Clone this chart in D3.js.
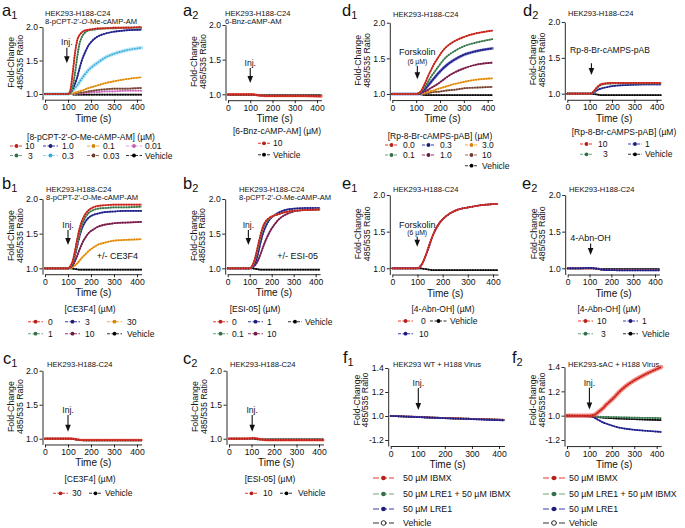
<!DOCTYPE html>
<html><head><meta charset="utf-8">
<script src="https://cdn.jsdelivr.net/npm/d3@7"></script>
<style>
body{margin:0;background:#fff}
svg{display:block}
text{font-family:"Liberation Sans",Arial,Helvetica,sans-serif;fill:#111}
</style>
</head><body>
<svg id="c" width="685" height="528"></svg>
<script>
// ---------- data ----------
const T = [0,50,100,110,120,130,140,150,160,175,190,210,230,260,300,350,420];
const xTicks = [0,100,200,300,400];
const yTicks = [1.0,1.5,2.0];
const yTickLabels = ["1.0","1.5","2.0"];
const fTicks = [0.8,1.0,1.2,1.4];
const fTickLabels = ["-1.2","1.0","1.2","1.4"];

// a1
const a1_10  = [1.00,1.00,1.00,1.05,1.30,1.60,1.80,1.88,1.92,1.95,1.96,1.97,1.98,1.98,1.99,1.99,2.00];
const a1_3   = [1.00,1.00,1.00,1.01,1.10,1.30,1.55,1.75,1.85,1.92,1.95,1.96,1.97,1.98,1.98,1.99,1.99];
const a1_1   = [1.00,1.00,1.00,1.02,1.07,1.15,1.25,1.38,1.50,1.63,1.73,1.81,1.86,1.90,1.93,1.95,1.96];
const a1_03  = [1.00,1.00,1.00,1.02,1.05,1.09,1.13,1.18,1.23,1.30,1.36,1.42,1.47,1.54,1.60,1.65,1.69];
const a1_01  = [1.00,1.00,1.00,1.00,1.01,1.02,1.03,1.04,1.05,1.07,1.09,1.11,1.13,1.16,1.19,1.22,1.25];
const a1_003 = [1.00,1.00,1.00,1.00,1.00,1.01,1.01,1.02,1.02,1.03,1.04,1.05,1.06,1.07,1.08,1.08,1.09];
const a1_001 = [1.00,1.00,1.00,1.00,1.00,1.00,1.01,1.01,1.01,1.02,1.02,1.03,1.03,1.04,1.04,1.05,1.05];
const a1_veh = [1.00,1.00,1.00,1.00,0.995,0.99,0.99,0.99,0.99,0.99,0.99,0.99,0.99,0.99,0.99,0.99,0.99];
// a2
const a2_10  = [1.00,1.00,1.00,1.00,0.995,0.99,0.985,0.98,0.978,0.975,0.975,0.975,0.975,0.975,0.975,0.975,0.97];
const a2_veh = [0.995,0.995,0.995,0.995,0.99,0.988,0.985,0.985,0.985,0.985,0.985,0.985,0.985,0.985,0.985,0.985,0.985];
// d1
const d1_00  = [1.00,1.00,1.00,1.01,1.04,1.10,1.17,1.25,1.32,1.42,1.50,1.60,1.67,1.74,1.80,1.85,1.89];
const d1_01  = [1.00,1.00,1.00,1.01,1.03,1.07,1.12,1.17,1.23,1.30,1.37,1.46,1.53,1.60,1.67,1.72,1.77];
const d1_03  = [1.00,1.00,1.00,1.00,1.02,1.05,1.08,1.12,1.16,1.22,1.28,1.35,1.41,1.48,1.55,1.60,1.64];
const d1_1   = [1.00,1.00,1.00,1.00,1.01,1.03,1.04,1.06,1.08,1.11,1.14,1.19,1.24,1.30,1.36,1.41,1.44];
const d1_3   = [1.00,1.00,1.00,1.00,1.00,1.01,1.02,1.03,1.04,1.05,1.07,1.09,1.11,1.14,1.17,1.20,1.22];
const d1_10  = [1.00,1.00,1.00,1.00,1.00,1.00,1.01,1.01,1.02,1.03,1.03,1.04,1.05,1.06,1.08,1.09,1.10];
const d1_veh = [1.00,1.00,1.00,1.00,0.995,0.99,0.985,0.985,0.985,0.985,0.985,0.985,0.985,0.985,0.985,0.985,0.985];
// d2
const d2_10  = [1.00,1.00,1.00,1.01,1.04,1.08,1.11,1.13,1.14,1.145,1.15,1.15,1.15,1.15,1.15,1.15,1.15];
const d2_3   = [1.00,1.00,1.00,1.01,1.03,1.07,1.10,1.12,1.13,1.14,1.14,1.145,1.145,1.145,1.145,1.145,1.145];
const d2_1   = [1.00,1.00,1.00,1.00,1.02,1.04,1.06,1.07,1.08,1.09,1.10,1.11,1.115,1.12,1.125,1.13,1.13];
const d2_veh = [1.00,1.00,1.00,1.00,0.995,0.99,0.985,0.98,0.98,0.98,0.98,0.98,0.98,0.98,0.98,0.98,0.98];
// b1
const b1_0   = [1.00,1.00,1.00,1.03,1.10,1.25,1.42,1.57,1.68,1.78,1.84,1.88,1.90,1.91,1.92,1.92,1.92];
const b1_1   = [1.00,1.00,1.00,1.02,1.08,1.20,1.36,1.50,1.62,1.73,1.80,1.84,1.86,1.87,1.88,1.88,1.89];
const b1_3   = [1.00,1.00,1.00,1.02,1.07,1.18,1.32,1.46,1.57,1.67,1.73,1.77,1.79,1.81,1.82,1.83,1.83];
const b1_10  = [1.00,1.00,1.00,1.01,1.04,1.10,1.18,1.27,1.35,1.44,1.51,1.56,1.60,1.63,1.65,1.66,1.67];
const b1_30  = [1.00,1.00,1.00,1.00,1.02,1.04,1.07,1.11,1.15,1.20,1.25,1.30,1.34,1.37,1.40,1.41,1.42];
const b1_veh = [1.00,1.00,1.00,1.00,0.995,0.99,0.985,0.98,0.98,0.98,0.98,0.98,0.98,0.98,0.98,0.98,0.98];
// b2
const b2_0   = [1.00,1.00,1.00,1.03,1.10,1.22,1.36,1.49,1.60,1.69,1.73,1.76,1.78,1.81,1.83,1.84,1.85];
const b2_01  = [1.00,1.00,1.00,1.02,1.08,1.19,1.33,1.46,1.57,1.67,1.72,1.76,1.78,1.81,1.83,1.84,1.85];
const b2_1   = [1.00,1.00,1.00,1.01,1.05,1.12,1.24,1.38,1.50,1.62,1.70,1.76,1.80,1.84,1.86,1.87,1.87];
const b2_10  = [1.00,1.00,1.00,1.01,1.03,1.07,1.13,1.21,1.30,1.42,1.52,1.62,1.70,1.77,1.82,1.84,1.85];
const b2_veh = [1.00,1.00,1.00,1.00,0.995,0.99,0.985,0.98,0.98,0.98,0.98,0.98,0.98,0.98,0.98,0.98,0.98];
// e1
const e1_0   = [1.00,1.00,1.00,1.02,1.07,1.15,1.25,1.35,1.44,1.55,1.63,1.70,1.75,1.80,1.83,1.86,1.88];
const e1_10  = [1.00,1.00,1.00,1.02,1.07,1.15,1.24,1.34,1.44,1.55,1.63,1.70,1.75,1.80,1.83,1.86,1.88];
const e1_veh = [1.00,1.00,1.00,1.00,0.995,0.99,0.985,0.98,0.975,0.975,0.975,0.975,0.975,0.975,0.975,0.975,0.975];
// e2
const e2_10  = [1.00,1.00,1.00,1.00,1.00,0.995,0.99,0.985,0.98,0.975,0.975,0.975,0.975,0.975,0.975,0.975,0.975];
const e2_3   = [1.00,1.00,1.005,1.005,1.00,0.995,0.99,0.985,0.98,0.978,0.978,0.978,0.978,0.978,0.978,0.978,0.978];
const e2_1   = [1.00,1.00,1.005,1.005,1.00,0.995,0.99,0.985,0.98,0.975,0.975,0.975,0.972,0.972,0.972,0.972,0.972];
const e2_veh = [1.00,1.00,1.00,1.00,1.00,0.995,0.995,0.99,0.99,0.99,0.99,0.99,0.99,0.99,0.99,0.99,0.99];
// c1
const c1_30  = [1.00,1.00,1.00,1.00,1.00,0.995,0.99,0.985,0.98,0.98,0.98,0.98,0.98,0.98,0.98,0.98,0.98];
const c1_veh = [1.00,1.00,1.00,1.00,0.995,0.99,0.985,0.98,0.978,0.975,0.975,0.975,0.975,0.975,0.975,0.975,0.975];
// c2
const c2_10  = [1.00,1.00,1.005,1.01,1.005,1.00,0.99,0.985,0.98,0.978,0.978,0.978,0.978,0.978,0.978,0.978,0.978];
const c2_veh = [1.00,1.00,1.00,1.00,0.995,0.99,0.99,0.99,0.99,0.99,0.99,0.99,0.99,0.99,0.99,0.99,0.99];
// f1
const f1_ibmx     = [1.000,0.996,0.992,0.991,0.990,0.989,0.988,0.987,0.986,0.985,0.984,0.982,0.981,0.979,0.976,0.972,0.967];
const f1_lre_ibmx = [1.000,0.996,0.992,0.991,0.990,0.989,0.988,0.987,0.986,0.985,0.983,0.982,0.980,0.978,0.975,0.971,0.966];
const f1_lre      = [1.000,0.996,0.991,0.990,0.989,0.988,0.987,0.986,0.985,0.984,0.982,0.981,0.979,0.977,0.974,0.970,0.964];
const f1_veh      = [1.000,0.996,0.992,0.991,0.990,0.989,0.988,0.987,0.987,0.986,0.984,0.983,0.981,0.979,0.976,0.973,0.968];
// f2
const f2_ibmx     = [1.000,1.000,1.000,1.002,1.005,1.015,1.030,1.045,1.060,1.090,1.115,1.150,1.190,1.240,1.290,1.340,1.400];
const f2_lre_ibmx = [1.000,0.998,0.995,0.995,0.994,0.993,0.992,0.991,0.990,0.990,0.989,0.988,0.987,0.986,0.984,0.982,0.980];
const f2_lre      = [1.000,0.998,0.995,0.992,0.985,0.975,0.965,0.955,0.945,0.935,0.925,0.913,0.903,0.893,0.884,0.876,0.866];
const f2_veh      = [1.000,0.998,0.995,0.994,0.992,0.990,0.988,0.986,0.984,0.982,0.980,0.978,0.976,0.974,0.971,0.968,0.964];

// ---------- styles ----------
const COL = {
  red:["#ec3b2f","#b3221a"], green:["#6aa57a","#346e46"], blue:["#3b3bb0","#1d1d78"],
  orange:["#f7aa2c","#d7830e"], pink:["#e79bdc","#c062b3"], cyan:["#92d8f3","#3aa8d4"],
  brown:["#a07060","#6b3e2e"], maroon:["#9a3266","#6a1b44"], black:["#333","#000"]
};
const FONT = '"Liberation Sans",Arial,Helvetica,sans-serif';
const INK = "#111";

const L1=146, L2=155.5;
const panels = [
 {let:"a",sub:"1",lx:2,ly:15.5,title:["HEK293-H188-C24","8-pCPT-2'-_O_-Me-cAMP-AM"],tx:45,ty:15.5,
  px:[45,137],py:[94,27],yv:[1,2],f:false,
  series:[[a1_veh,"black"],[a1_001,"pink"],[a1_003,"brown"],[a1_01,"orange"],[a1_03,"cyan",4],[a1_1,"blue"],[a1_3,"green"],[a1_10,"red"]],
  ann:[{arrow:[95,1.69,1.46]},{t:95,v:1.73,s:"Inj."}],
  lt:["[8-pCPT-2'-_O_-Me-cAMP-AM] (µM)",91,137],
  items:[["10","red",10,23,25,L1],["1.0","blue",43,58,62,L1],["0.1","orange",87,100,103,L1],["0.01","pink",126,142,145,L1],
         ["3","green",10,23,28,L2],["0.3","cyan",43,58,62,L2],["0.03","brown",87,100,103,L2],["Vehicle","black",126,142,145,L2]]},
 {let:"a",sub:"2",lx:183,ly:15.5,title:["HEK293-H188-C24","6-Bnz-cAMP-AM"],tx:225,ty:15.5,
  px:[228,317],py:[94.3,25],yv:[1,2],f:false,
  series:[[a2_veh,"black",2],[a2_10,"red",2.6]],
  ann:[{arrow:[100,1.38,1.163]},{t:100,v:1.41,s:"Inj."}],
  lt:["[6-Bnz-cAMP-AM] (µM)",277,131],
  items:[["10","red",258,270,273,143.3],["Vehicle","black",258,270,273,154.7]]},
 {let:"d",sub:"1",lx:342,ly:15.5,title:["HEK293-H188-C24"],tx:393,ty:16.5,
  px:[392.3,487.7],py:[94,22.7],yv:[1,2],f:false,
  series:[[d1_veh,"black"],[d1_10,"brown"],[d1_3,"orange"],[d1_1,"maroon"],[d1_03,"blue",3],[d1_01,"green"],[d1_00,"red"]],
  ann:[{arrow:[105,1.393,1.206]},{t:105,v:1.551,s:"Forskolin",size:9},{t:105,v:1.417,s:"(6 µM)",size:6.8}],
  lt:["[Rp-8-Br-cAMPS-pAB] (µM)",440,136],
  items:[["0.0","red",385,398,403,145],["0.3","blue",422,435,440,145],["3.0","orange",465,478,482,145],
         ["0.1","green",385,398,403,155],["1.0","maroon",422,435,440,155],["10","brown",465,478,482,155],
         ["Vehicle","black",465,478,482,165.7]]},
 {let:"d",sub:"2",lx:523,ly:15.5,title:["HEK293-H188-C24"],tx:568,ty:16,
  px:[567.3,656.7],py:[93.7,22],yv:[1,2],f:false,
  series:[[d2_veh,"black"],[d2_1,"blue"],[d2_3,"green"],[d2_10,"red"]],
  ann:[{arrow:[108,1.424,1.26]},{t:191,v:1.568,s:"Rp-8-Br-cAMPS-pAB",size:8.5}],
  lt:["[Rp-8-Br-cAMPS-pAB] (µM)",624,132],
  items:[["10","red",580,593,598,144],["1","blue",628,642,645,144],["3","green",580,593,603,154.3],["Vehicle","black",628,642,645,154.3]]},

 {let:"b",sub:"1",lx:2,ly:188.5,title:["HEK293-H188-C24","8-pCPT-2'-_O_-Me-cAMP-AM"],tx:46,ty:191.5,
  px:[45,137],py:[268.3,199],yv:[1,2],f:false,
  series:[[b1_veh,"black"],[b1_30,"orange"],[b1_10,"maroon"],[b1_3,"blue"],[b1_1,"green"],[b1_0,"red"]],
  ann:[{arrow:[100,1.553,1.336]},{t:100,v:1.58,s:"Inj."},{t:225,v:1.127,s:"+/- CE3F4",anchor:"start",size:9}],
  lt:["[CE3F4] (µM)",90,309],
  items:[["0","red",28,43,48,321.7],["3","blue",65,80,85,321.7],["30","orange",107,122,127,321.7],
         ["1","green",28,43,48,333.7],["10","maroon",65,80,85,333.7],["Vehicle","black",107,122,127,333.7]]},
 {let:"b",sub:"2",lx:183,ly:188.5,title:["HEK293-H188-C24","8-pCPT-2'-_O_-Me-cAMP-AM"],tx:239,ty:191.5,
  px:[227.7,315.7],py:[268.3,199],yv:[1,2],f:false,
  series:[[b2_veh,"black"],[b2_10,"maroon"],[b2_1,"blue"],[b2_01,"green"],[b2_0,"red"]],
  ann:[{arrow:[94,1.553,1.336]},{t:94,v:1.58,s:"Inj."},{t:225,v:1.127,s:"+/- ESI-05",anchor:"start",size:9}],
  lt:["[ESI-05] (µM)",255,309],
  items:[["0","red",213,228,232,321.7],["1","blue",248,263,267,321.7],["Vehicle","black",288,302,305,321.7],
         ["0.1","green",213,228,232,333.7],["10","maroon",248,263,267,333.7]]},
 {let:"e",sub:"1",lx:342,ly:188.5,title:["HEK293-H188-C24"],tx:393,ty:191.5,
  px:[392.3,493],py:[268.3,195],yv:[1,2],f:false,
  series:[[e1_veh,"black"],[e1_10,"blue"],[e1_0,"red"]],
  ann:[{arrow:[99,1.43,1.295]},{t:99,v:1.55,s:"Forskolin",size:9},{t:99,v:1.458,s:"(6 µM)",size:6.8}],
  lt:["[4-Abn-OH] (µM)",443,309],
  items:[["0","red",398,413,421,321],["Vehicle","black",430,447,450,321],["10","blue",398,413,419,333.7]]},
 {let:"e",sub:"2",lx:522,ly:188.5,title:["HEK293-H188-C24"],tx:569,ty:191.5,
  px:[567.7,655],py:[268.3,195],yv:[1,2],f:false,
  series:[[e2_veh,"black"],[e2_3,"green"],[e2_10,"red"],[e2_1,"blue"]],
  ann:[{arrow:[105,1.34,1.18]},{t:105,v:1.368,s:"4-Abn-OH",size:9}],
  lt:["[4-Abn-OH] (µM)",609,309],
  items:[["10","red",578,593,597,321],["1","blue",623,638,642,321],["3","green",578,593,601,333.7],["Vehicle","black",623,638,642,333.7]]},

 {let:"c",sub:"1",lx:3,ly:363.5,title:["HEK293-H188-C24"],tx:47,ty:366.7,
  px:[45,137],py:[438.7,370.7],yv:[1,2],f:false,
  series:[[c1_veh,"black"],[c1_30,"red",2.4]],
  ann:[{arrow:[100,1.35,1.103]},{t:100,v:1.378,s:"Inj."}],
  lt:["[CE3F4] (µM)",90,479.3],
  items:[["30","red",53,68,72,493.3],["Vehicle","black",89,102,105,493.3]]},
 {let:"c",sub:"2",lx:183,ly:363.5,title:["HEK293-H188-C24"],tx:230,ty:366.7,
  px:[229,319],py:[438.7,370.7],yv:[1,2],f:false,
  series:[[c2_veh,"black"],[c2_10,"red",2.4]],
  ann:[{arrow:[103,1.35,1.103]},{t:103,v:1.378,s:"Inj."}],
  lt:["[ESI-05] (µM)",270,479.3],
  items:[["10","red",245,258,263,493.3],["Vehicle","black",280,293,298,493.3]]},
 {let:"f",sub:"1",lx:343,ly:363,title:["HEK293 WT + H188 Virus"],tx:393,ty:366.7,
  px:[390.7,499],py:[440,368],yv:[0.8,1.4],f:true,
  series:[[f1_veh,"black"],[f1_lre_ibmx,"green"],[f1_ibmx,"red"],[f1_lre,"blue"]],
  ann:[{arrow:[102,1.233,1.05]},{t:102,v:1.2475,s:"Inj."}],
  lt:null,
  items:[["50 µM IBMX","red",373,394,403,478],["50 µM LRE1 + 50 µM IBMX","green",373,394,403,494],
         ["50 µM LRE1","blue",373,394,403,509],["Vehicle","black",373,394,403,523,true]]},
 {let:"f",sub:"2",lx:512,ly:363,title:["HEK293-sAC + H188 Virus"],tx:568,ty:366.7,
  px:[567,656.7],py:[440,367],yv:[0.8,1.4],f:true,
  series:[[f2_veh,"black"],[f2_lre_ibmx,"green"],[f2_lre,"blue"],[f2_ibmx,"red",4.5]],
  ann:[{arrow:[100,1.23,1.05]},{t:100,v:1.245,s:"Inj."}],
  lt:null,
  items:[["50 µM IBMX","red",543,565,569,478],["50 µM LRE1 + 50 µM IBMX","green",543,565,569,494],
         ["50 µM LRE1","blue",543,565,569,509],["Vehicle","black",543,565,569,523,true]]}
];

// ---------- drawing ----------
const svg = d3.select("#c");
function rich(sel, str){
  str.split("_").forEach((s,i)=>{ if(s){ const t=sel.append("tspan").text(s); if(i%2) t.attr("font-style","italic"); } });
}
function txt(g, x, y, size, s, anchor){
  return g.append("text").attr("x",x).attr("y",y).attr("font-size",size).attr("fill",INK)
    .attr("text-anchor",anchor||"start").text(s);
}

panels.forEach(p=>{
  const g = svg.append("g");
  const xEnd = p.px[0] + (p.px[1]-p.px[0])*420/400;
  const x = d3.scaleLinear().domain([0,420]).range([p.px[0], xEnd]);
  const k = (p.py[1]-p.py[0])/(p.yv[1]-p.yv[0]);
  const yPix = v => p.py[0] + (v-p.yv[0])*k;
  const yMin = p.f ? 0.75 : 0.915;
  const yMax = p.f ? 1.4 : 2.0;
  const y = d3.scaleLinear().domain([yMin,yMax]).range([yPix(yMin), yPix(yMax)]);
  const axisY = y(yMin);
  const axX = p.px[0]-2.5;

  // panel letter
  const lt = txt(g,p.lx,p.ly,16.5,p.let);
  lt.append("tspan").attr("font-size",11).attr("dy",3).text(p.sub);

  // title
  p.title.forEach((s,i)=>{
    const t = g.append("text").attr("x",p.tx).attr("y",p.ty+i*8.6).attr("font-size",7.6).attr("fill",INK);
    rich(t,s);
  });

  // axes
  const gx = g.append("g").attr("transform",`translate(0,${axisY})`)
    .call(d3.axisBottom(x).tickValues(xTicks).tickSize(3).tickSizeOuter(0).tickPadding(1.5));
  const yt = p.f ? fTicks : yTicks, yl = p.f ? fTickLabels : yTickLabels;
  const gy = g.append("g").attr("transform",`translate(${axX},0)`)
    .call(d3.axisLeft(y).tickValues(yt).tickFormat((d,i)=>yl[i]).tickSize(3).tickSizeOuter(0).tickPadding(1.5));
  [gx,gy].forEach(a=>{
    a.attr("font-family",null).attr("font-size",null);
    a.selectAll("text").attr("font-size",8.6).attr("font-family",FONT).attr("fill",INK);
    a.selectAll(".domain,.tick line").attr("stroke",INK).attr("stroke-width",0.9);
  });

  // axis titles
  txt(g,x(210),axisY+22,10,"Time (s)","middle");
  const midY = p.f ? 400 : (axisY + y(yMax))/2 - 1;
  const yg = g.append("g").attr("transform",`translate(${axX-28.5},${midY}) rotate(-90)`);
  txt(yg,0,0,8.8,"Fold-Change","middle");
  txt(yg,0,8.5,8.8,"485/535 Ratio","middle");

  // series
  const line = d3.line().x((d,i)=>x(T[i])).y(d=>y(d)).curve(d3.curveMonotoneX);
  p.series.forEach(([vals,cn,w])=>{
    const c = COL[cn];
    if (w){
      g.append("path").attr("d",line(vals)).attr("fill","none").attr("stroke",c[0]).attr("stroke-opacity",0.55)
        .attr("stroke-width",w).attr("stroke-linecap","round");
    }
    g.append("path").attr("d",line(vals)).attr("fill","none").attr("stroke",c[0]).attr("stroke-width",1.7);
    g.append("path").attr("d",line(vals)).attr("fill","none").attr("stroke",c[1]).attr("stroke-width",1.8)
      .attr("stroke-linecap","round").attr("stroke-dasharray","0 2.6");
  });

  // annotations
  p.ann.forEach(a=>{
    if (a.arrow){
      const [t,v0,v1] = a.arrow, ax = x(t), y0=y(v0), y1=y(v1);
      g.append("line").attr("x1",ax).attr("x2",ax).attr("y1",y0).attr("y2",y1-3).attr("stroke",INK).attr("stroke-width",1.1);
      g.append("path").attr("d",`M${ax-2.8},${y1-7}L${ax+2.8},${y1-7}L${ax},${y1}Z`).attr("fill",INK);
    } else {
      txt(g,x(a.t),y(a.v),a.size||8.6,a.s,a.anchor||"middle");
    }
  });

  // legend
  if (p.lt){
    const t = g.append("text").attr("x",p.lt[1]).attr("y",p.lt[2]+3).attr("text-anchor","middle")
      .attr("font-size",8.5).attr("fill",INK);
    rich(t,p.lt[0]);
  }
  p.items.forEach(([lab,cn,x0,x1,tx,yy,open])=>{
    const c = COL[cn], big = p.f;
    g.append("line").attr("x1",x0).attr("x2",x1).attr("y1",yy).attr("y2",yy)
      .attr("stroke",c[0]).attr("stroke-width",1.1).attr("stroke-dasharray",big?"6,2":"3,1.5");
    g.append("circle").attr("cx",(x0+x1)/2).attr("cy",yy).attr("r",big?2.3:1.9)
      .attr("fill",open?"#fff":c[1]).attr("stroke",c[1]).attr("stroke-width",open?0.8:0);
    txt(g,tx,yy+3.1,big?8.8:8.5,lab);
  });
});
</script>
</body></html>
